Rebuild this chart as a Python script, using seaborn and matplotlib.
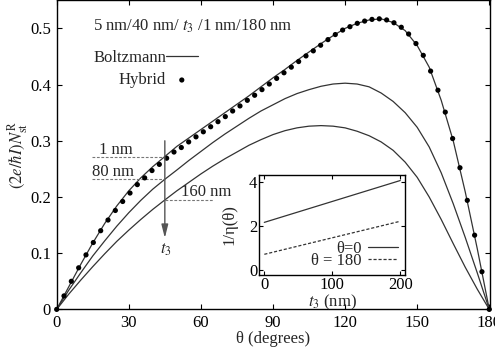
import matplotlib
matplotlib.use('Agg')
import matplotlib.pyplot as plt
from matplotlib.ticker import FuncFormatter
import seaborn as sns

# Boltzmann curves, read every 5 degrees
theta = [0, 5, 10, 15, 20, 25, 30, 35, 40, 45, 50, 55, 60, 65, 70, 75, 80, 85, 90,
         95, 100, 105, 110, 115, 120, 125, 130, 135, 140, 145, 150, 155, 160, 165,
         170, 175, 180]
boltz_1nm = [0, 0.040, 0.080, 0.118, 0.153, 0.184, 0.211, 0.234, 0.254, 0.272,
             0.290, 0.305, 0.320, 0.335, 0.350, 0.365, 0.380, 0.396, 0.412, 0.427,
             0.443, 0.458, 0.473, 0.487, 0.500, 0.509, 0.515, 0.517, 0.5105, 0.496,
             0.4695, 0.431, 0.372, 0.300, 0.209, 0.108, 0]
boltz_80nm = [0, 0.034, 0.065, 0.095, 0.122, 0.148, 0.172, 0.194, 0.214, 0.2315,
              0.248, 0.265, 0.281, 0.297, 0.312, 0.326, 0.340, 0.353, 0.364, 0.375,
              0.384, 0.391, 0.397, 0.401, 0.4025, 0.401, 0.396, 0.385, 0.370, 0.350,
              0.324, 0.289, 0.243, 0.188, 0.128, 0.065, 0]
boltz_160nm = [0, 0.027, 0.052, 0.076, 0.099, 0.121, 0.141, 0.160, 0.178, 0.1947,
               0.211, 0.226, 0.241, 0.255, 0.268, 0.280, 0.292, 0.302, 0.311, 0.318,
               0.323, 0.326, 0.327, 0.326, 0.323, 0.317, 0.309, 0.298, 0.283, 0.262,
               0.235, 0.200, 0.160, 0.117, 0.075, 0.036, 0]

# hybrid points (1 nm)
theta_hybrid = [0.00, 3.05, 6.10, 9.15, 12.20, 15.25, 18.31, 21.36, 24.41, 27.46,
                30.51, 33.56, 36.61, 39.66, 42.71, 45.76, 48.81, 51.86, 54.92, 57.97,
                61.02, 64.07, 67.12, 70.17, 73.22, 76.27, 79.32, 82.37, 85.42, 88.47,
                91.53, 94.58, 97.63, 100.68, 103.73, 106.78, 109.83, 112.88, 115.93, 118.98,
                122.03, 125.08, 128.14, 131.19, 134.24, 137.29, 140.34, 143.39, 146.44, 149.49,
                152.54, 155.59, 158.64, 161.69, 164.75, 167.80, 170.85, 173.90, 176.95, 180.00]
hybrid_1nm = [0, 0.024, 0.050, 0.074, 0.097, 0.119, 0.140, 0.159, 0.176, 0.192,
              0.207, 0.222, 0.234, 0.247, 0.258, 0.269, 0.280, 0.288, 0.298, 0.307,
              0.316, 0.325, 0.334, 0.343, 0.353, 0.362, 0.372, 0.381, 0.391, 0.401,
              0.411, 0.421, 0.431, 0.441, 0.451, 0.460, 0.470, 0.480, 0.489, 0.497,
              0.503, 0.509, 0.513, 0.516, 0.517, 0.515, 0.510, 0.502, 0.490, 0.473,
              0.452, 0.424, 0.390, 0.351, 0.304, 0.252, 0.194, 0.132, 0.067, 0.0]

# inset: 1/eta vs t3
t3_nm = [0, 200]
inv_eta_0 = [2.15, 4.05]
inv_eta_180 = [0.70, 2.20]

x_ticks = [0, 30, 60, 90, 120, 150, 180]
y_ticks = [0, 0.1, 0.2, 0.3, 0.4, 0.5]
inset_xticks = [0, 100, 200]
inset_yticks = [0, 2, 4]

sns.set_theme(style='ticks')
plt.rcParams['font.family'] = ['Liberation Serif', 'DejaVu Serif']
plt.rcParams['mathtext.fontset'] = 'stix'
plt.rcParams['font.size'] = 12
plt.rcParams['axes.labelsize'] = 12
plt.rcParams['xtick.labelsize'] = 12
plt.rcParams['ytick.labelsize'] = 12
plt.rcParams['legend.fontsize'] = 12
plt.rcParams['axes.edgecolor'] = 'black'
plt.rcParams['axes.linewidth'] = 1.0

line_col = '#333333'

fig = plt.figure(figsize=(4.95, 3.49), dpi=100)
ax = fig.add_axes([0.1145, 0.1135, 0.8754, 0.8857])

sns.lineplot(x=theta, y=boltz_1nm, ax=ax, color=line_col, lw=0.9, label='Boltzmann')
sns.lineplot(x=theta, y=boltz_80nm, ax=ax, color=line_col, lw=0.9)
sns.lineplot(x=theta, y=boltz_160nm, ax=ax, color=line_col, lw=0.9)
sns.scatterplot(x=theta_hybrid, y=hybrid_1nm, ax=ax, color='black', s=14,
                edgecolor='none', label='Hybrid', clip_on=False, zorder=3)

ax.set_xlim(0, 180.3)
ax.set_ylim(0, 0.55)
ax.set_xticks(x_ticks)
ax.set_yticks(y_ticks)
ax.yaxis.set_major_formatter(FuncFormatter(lambda v, p: '%g' % v))
ax.tick_params(direction='in', top=True, right=True, length=3.5, width=0.8,
               colors='black', pad=4)
ax.set_xlabel('θ (degrees)', labelpad=0)
ax.set_ylabel(r'$(2e/\hbar I)N_{\rm st}^{\rm R}$', labelpad=0)

ax.text(15.0, 0.503, r'5 nm/40 nm/ $t_3$ /1 nm/180 nm', ha='left', va='center')

leg = ax.legend(loc='upper left', bbox_to_anchor=(0.084, 0.839), frameon=False,
                markerfirst=False, handlelength=1.9, handletextpad=0.0,
                borderpad=0, borderaxespad=0, labelspacing=0.38)

# thickness markers at theta = 45
i45 = theta.index(45)
dash = dict(color='#777777', lw=0.8, ls=(0, (2.5, 1.5)))
ax.plot([14.8, 45], [boltz_1nm[i45]] * 2, **dash)
ax.plot([14.8, 45], [boltz_80nm[i45]] * 2, **dash)
ax.plot([45, 65], [boltz_160nm[i45]] * 2, **dash)
ax.text(24.6, 0.283, '1 nm', ha='center', va='center')
ax.text(23.6, 0.245, '80 nm', ha='center', va='center')
ax.text(62.4, 0.209, '160 nm', ha='center', va='center')
ax.annotate('', xy=(45, 0.127), xytext=(45, 0.30),
            arrowprops=dict(arrowstyle='-|>,head_length=0.8,head_width=0.2',
                            color='#555555', lw=1.0, mutation_scale=10,
                            shrinkA=0, shrinkB=0))
ax.text(45.4, 0.106, r'$t_3$', ha='center', va='center')

# inset
axin = fig.add_axes([0.5238, 0.2120, 0.2949, 0.2865])
sns.lineplot(x=t3_nm, y=inv_eta_0, ax=axin, color=line_col, lw=0.9, label='θ=0')
sns.lineplot(x=t3_nm, y=inv_eta_180, ax=axin, color=line_col, lw=0.9,
             ls=(0, (2.5, 1.5)), label='θ = 180')
axin.set_xlim(-7.4, 207.4)
axin.set_ylim(-0.24, 4.3)
axin.set_xticks(inset_xticks)
axin.set_yticks(inset_yticks)
axin.tick_params(direction='in', top=True, right=True, length=3, width=0.8,
                 colors='black', pad=1.5)
axin.set_xlabel(r'$t_3$ (nm)', labelpad=0)
axin.set_ylabel('1/η(θ)', labelpad=8)
axin.legend(loc='lower right', bbox_to_anchor=(0.95, 0.06), frameon=False,
            markerfirst=False, handlelength=1.8, handletextpad=0.4,
            borderpad=0, borderaxespad=0, labelspacing=-0.25)

fig.savefig('out.png', dpi=100)
